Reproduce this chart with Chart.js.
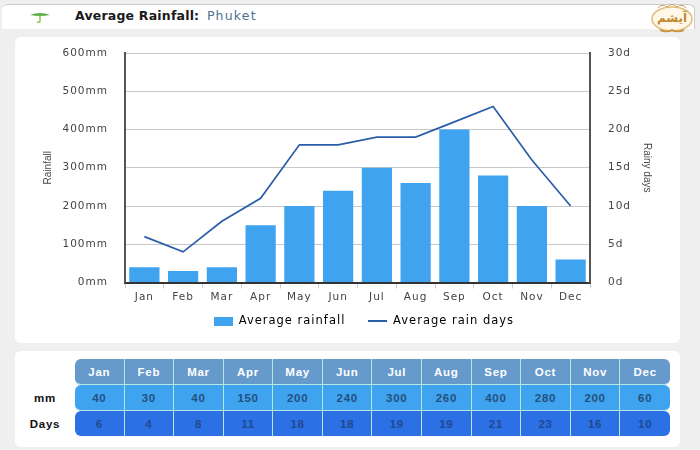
<!DOCTYPE html>
<html><head><meta charset="utf-8">
<script src="https://cdn.jsdelivr.net/npm/chart.js@4"></script>
<style>
html,body{margin:0;padding:0;width:700px;height:450px;overflow:hidden;background:#efefef;font-family:"DejaVu Sans",sans-serif}
#top{position:absolute;left:2px;top:4px;width:692px;height:24px;background:#fff;border-top:1px solid #ccc;border-right:1px solid #ccc;border-radius:6px 6px 0 0}
#title{position:absolute;left:75px;top:8px;font:bold 12.5px "DejaVu Sans",sans-serif;color:#1a1a1a;white-space:nowrap;letter-spacing:.2px}
#title span{font-weight:normal;color:#4f6f8f;margin-left:3px;letter-spacing:1.2px}
#icon{position:absolute;left:30px;top:10px}
#logo{position:absolute;left:650px;top:2px}
#logot{position:absolute;left:650px;top:9px;width:44px;text-align:center;font:bold 12px "DejaVu Sans",sans-serif;line-height:18px;color:#c08a30}
#p1{position:absolute;left:15px;top:37px;width:665px;height:306px;background:#fff;border-radius:6px}
#p2{position:absolute;left:15px;top:351px;width:665px;height:96px;background:#fff;border-radius:6px}
#wrap{position:absolute;left:0;top:0;width:665px;height:307px}
table{position:absolute;left:0;top:8px;width:655px;border-collapse:separate;border-spacing:0;table-layout:fixed;font:bold 11.5px "Liberation Sans",sans-serif;letter-spacing:.7px}
td,th{height:25px;padding:0;text-align:center;border-right:1px solid #b5e6df;border-bottom:1px solid #b5e6df;box-sizing:content-box}
col.first{width:60px}
tr.h th{background:#6699cc;color:#fff}
tr.m td{background:#3fa3ef;color:#23507f}
tr.d td{background:#2b70e4;color:#1f4a90}
tr td:last-child,tr th:last-child{border-right:0;border-radius:0 6px 6px 0}
tr th:nth-child(2),tr td:nth-child(2){border-radius:6px 0 0 6px}
tr.d td{border-bottom:0}
tr th.l,tr td.l{background:none;color:#111;border:0;border-radius:0}
</style></head><body>
<div id="top"></div>
<svg id="icon" width="20" height="14" viewBox="0 0 20 14"><path d="M0 5 Q10 1 20 5 Q10 7 0 5 Z" fill="#5fae45"/><path d="M10 5 V11 Q10 13 7 12" stroke="#8cc63f" stroke-width="1.5" fill="none"/></svg>
<div id="title">Average Rainfall: <span>Phuket</span></div>
<svg id="logo" width="44" height="33" viewBox="0 0 44 33"><ellipse cx="22" cy="17" rx="20" ry="12" fill="#fff8e8" stroke="#e3bd7c" stroke-width="1.5"/><path d="M8 6 Q12 1 17 5 Q22 0 27 5 Q32 1 36 6" fill="none" stroke="#c9a05a" stroke-width="1"/><path d="M10 28 Q16 31 22 28 Q28 31 34 28" fill="none" stroke="#c8913c" stroke-width="1.5"/></svg>
<div id="logot">آیشم</div>
<div id="p1"><div id="wrap"><canvas id="c"></canvas></div></div>
<div id="p2"><table id="t"></table></div>
<script>
const months=["Jan","Feb","Mar","Apr","May","Jun","Jul","Aug","Sep","Oct","Nov","Dec"];
const rainfall=[40,30,40,150,200,240,300,260,400,280,200,60];
const rainDays=[6,4,8,11,18,18,19,19,21,23,16,10];
const rowMm="mm", rowDays="Days";

const t=document.getElementById('t');
function row(cls,label,vals,tag){
  let h='<tr class="'+cls+'"><'+tag+' class="l">'+label+'</'+tag+'>';
  vals.forEach(v=>h+='<'+tag+'>'+v+'</'+tag+'>');
  return h+'</tr>';
}
t.innerHTML='<colgroup><col class="first"></colgroup>'+row('h','',months,'th')+row('m',rowMm,rainfall,'td')+row('d',rowDays,rainDays,'td');

function swatch(w,h,color){
  const s=document.createElement('canvas');s.width=w;s.height=h;
  const x=s.getContext('2d');x.fillStyle=color;x.fillRect(0,0,w,h);return s;
}
const barColor='#3fa3ef', lineColor='#2a5ea8';
const tickFont={family:'"DejaVu Sans",sans-serif',size:10.5};
const titleFont={family:'"Liberation Sans",sans-serif',size:10};
const tickColor='#444';
const spacing='1px';
const cv=document.getElementById('c');
const cx=cv.getContext('2d');
cx.letterSpacing=spacing;
function tightTitle(s){
  if(s._wrapped) return;
  s._wrapped=true;
  const d=s.drawTitle;
  s.drawTitle=function(){cx.letterSpacing='0px';d.apply(this,arguments);cx.letterSpacing=spacing;};
}
new Chart(cv,{
  data:{labels:months,datasets:[
    {type:'line',label:'Average rain days',data:rainDays,yAxisID:'y2',borderColor:lineColor,backgroundColor:lineColor,borderWidth:1.7,pointRadius:0,tension:0,order:0},
    {type:'bar',label:'Average rainfall',data:rainfall,yAxisID:'y',backgroundColor:barColor,borderWidth:0,categoryPercentage:1,barPercentage:0.78,order:1}
  ]},
  options:{
    responsive:true,maintainAspectRatio:false,animation:false,
    layout:{padding:{top:16,bottom:7,left:27,right:27}},
    plugins:{
      tooltip:{enabled:false},
      legend:{position:'bottom',labels:{
        font:{family:'"DejaVu Sans",sans-serif',size:11.5},color:'#222',usePointStyle:true,pointStyleWidth:19,boxHeight:9,padding:23,
        generateLabels(){
          return [
            {text:'Average rainfall',pointStyle:swatch(19,9,barColor),fillStyle:barColor,lineWidth:0,datasetIndex:1},
            {text:'Average rain days',pointStyle:swatch(19,2,lineColor),fillStyle:lineColor,lineWidth:0,datasetIndex:0}
          ];
        }}}
    },
    scales:{
      x:{afterFit(s){s.height=10;s._computeLabelArea=()=>undefined},grid:{display:true,drawOnChartArea:false,drawTicks:true,tickLength:6,color:'#ccc'},border:{color:'#333',width:2},ticks:{font:tickFont,color:tickColor,padding:2,maxRotation:0,autoSkip:false}},
      y:{position:'left',min:0,max:600,
        afterFit(s){s.width=83;s.paddingTop=0;s.paddingBottom=0;tightTitle(s)},
        grid:{color:'#c8c8c8',lineWidth:1,drawTicks:false},border:{color:'#555',width:2},
        ticks:{stepSize:100,font:tickFont,color:tickColor,padding:17,callback:v=>v+'mm'},
        title:{display:true,text:'Rainfall',color:'#444',font:titleFont,padding:{top:0,bottom:0}}},
      y2:{position:'right',min:0,max:30,
        afterFit(s){s.width=63;s.paddingTop=0;s.paddingBottom=0;tightTitle(s)},
        grid:{display:false,drawTicks:false},border:{color:'#555',width:2},
        ticks:{stepSize:5,font:tickFont,color:tickColor,padding:18,callback:v=>v+'d'},
        title:{display:true,text:'Rainy days',color:'#444',font:titleFont,padding:{top:0,bottom:0}}}
    }
  }
});
</script>
</body></html>
